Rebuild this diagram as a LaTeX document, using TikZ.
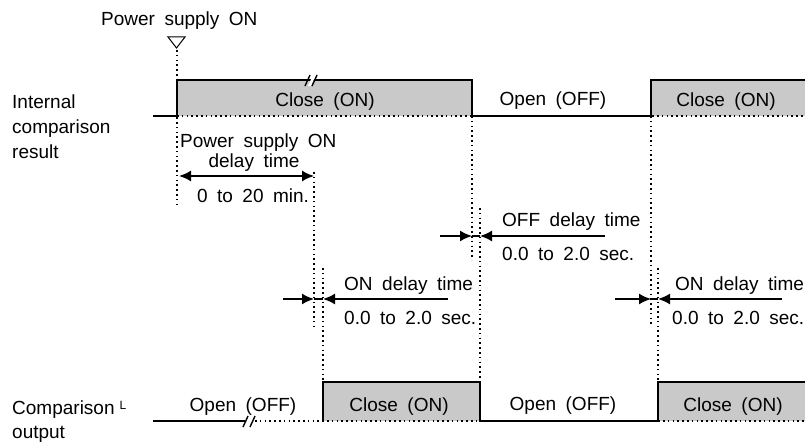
\documentclass[tikz,border=0pt]{standalone}
\usepackage{fontspec}
\setmainfont{Liberation Sans}[WordSpace=1.8]
\usetikzlibrary{arrows.meta}
\definecolor{fillgray}{RGB}{200,201,200}
\begin{document}
\begin{tikzpicture}[x=1pt,y=-1pt,
  lbl/.style={inner sep=0pt, font=\fontsize{19pt}{19pt}\selectfont},
  sig/.style={line width=2pt, line join=miter},
  guide/.style={line width=1.1pt, dash pattern=on 1.6pt off 3.2pt},
  arr/.style={line width=1.6pt, -{Latex[length=12pt,width=11pt]}},
  darr/.style={line width=1.6pt, {Latex[length=12pt,width=11pt]}-{Latex[length=12pt,width=11pt]}},
  brk/.style={line width=1.4pt},
]
\useasboundingbox (0,0) rectangle (805,446);

% ---------- top waveform (internal comparison result)
\coordinate (t0) at (153,116);
\coordinate (t1) at (177,116);
\coordinate (t2) at (177,80);
\coordinate (t3) at (472,80);
\coordinate (t4) at (472,116);
\coordinate (t5) at (651,116);
\coordinate (t6) at (651,80);
\coordinate (t7) at (805,80);
\coordinate (tend) at (805,116);
\fill[fillgray] (t2) rectangle (t4);
\fill[fillgray] (t6) rectangle (tend);
\draw[guide] (t1) -- (tend);

% ---------- bottom waveform (comparison output)
\coordinate (b0) at (153,421);
\coordinate (bbrk) at (245,421);
\coordinate (bdot) at (255,421);
\coordinate (b1) at (323,421);
\coordinate (b2) at (323,382);
\coordinate (b3) at (480,382);
\coordinate (b4) at (480,421);
\coordinate (b5) at (658,421);
\coordinate (b6) at (658,382);
\coordinate (b7) at (805,382);
\coordinate (bend) at (805,421);
\fill[fillgray] (b2) rectangle (b4);
\fill[fillgray] (b6) rectangle (bend);
\draw[guide] (bdot) -- (bend);

% ---------- power on marker
\coordinate (pwr) at (176.5,48);
\draw[line width=1pt, line join=miter] (168,37) -- (185,37) -- (pwr) -- cycle;

% ---------- dotted guide lines
\coordinate (g1a) at (177,50);   \coordinate (g1b) at (177,205);
\coordinate (g2a) at (314,172);  \coordinate (g2b) at (314,326);
\coordinate (g3a) at (323,268);  \coordinate (g3b) at (323,382);
\coordinate (g4a) at (472,116);  \coordinate (g4b) at (472,260);
\coordinate (g5a) at (480,208);  \coordinate (g5b) at (480,382);
\coordinate (g6a) at (651,116);  \coordinate (g6b) at (651,326);
\coordinate (g7a) at (658,268);  \coordinate (g7b) at (658,382);
\foreach \g in {1,...,7} \draw[guide] (g\g a) -- (g\g b);

% ---------- signal lines
\draw[sig] (t0) -- (t1) -- (t2) -- (t3) -- (t4) -- (t5) -- (t6) -- (t7);
\draw[sig] (b0) -- (bbrk);
\draw[sig] (b1) -- (b2) -- (b3) -- (b4) -- (b5) -- (b6) -- (b7);

% break marks
\fill[white] (308,86) -- (313,75) -- (316,75) -- (311,86) -- cycle;
\draw[brk] (305,86) -- (310,75);
\draw[brk] (312,86) -- (317,75);
\draw[brk] (243,427) -- (248,416);
\draw[brk] (250,427) -- (255,416);

% ---------- delay arrows
\coordinate (pa) at (179,176); \coordinate (pb) at (314,176);
\draw[darr] (pa) -- (pb);

\coordinate (f0) at (440,236); \coordinate (f1) at (472,236);
\coordinate (f2) at (480,236); \coordinate (f3) at (605,236);
\draw[arr] (f0) -- (f1);
\draw[line width=1.6pt] (f1) -- (f2);
\draw[arr] (f3) -- (f2);

\coordinate (n0) at (283,299); \coordinate (n1) at (314,299);
\coordinate (n2) at (323,299); \coordinate (n3) at (448,299);
\draw[arr] (n0) -- (n1);
\draw[line width=1.6pt] (n1) -- (n2);
\draw[arr] (n3) -- (n2);

\coordinate (m0) at (615,299); \coordinate (m1) at (651,299);
\coordinate (m2) at (658,299); \coordinate (m3) at (782,299);
\draw[arr] (m0) -- (m1);
\draw[line width=1.6pt] (m1) -- (m2);
\draw[arr] (m3) -- (m2);

% ---------- texts
\node[lbl, anchor=base west] (pson) at (101,26) {Power supply ON};
\node[lbl, anchor=base] (tc1) at (325,107) {Close (ON)};
\node[lbl, anchor=base] (to1) at (553,106) {Open (OFF)};
\node[lbl, anchor=base] (tc2) at (726,107) {Close (ON)};

\node[lbl, anchor=base west] (l1) at (12,109) {Internal};
\node[lbl, anchor=base west] (l2) at (12,134) {comparison};
\node[lbl, anchor=base west] (l3) at (12,159) {result};

\node[lbl, anchor=base west] (pd1) at (180,148) {Power supply ON};
\node[lbl, anchor=base] (pd2) at (254,168) {delay time};
\node[lbl, anchor=base] (pd3) at (253,203) {0 to 20 min.};

\node[lbl, anchor=base west] (fd1) at (502,227) {OFF delay time};
\node[lbl, anchor=base west] (fd2) at (502,261) {0.0 to 2.0 sec.};
\node[lbl, anchor=base west] (nd1) at (344,290) {ON delay time};
\node[lbl, anchor=base west] (nd2) at (344,324) {0.0 to 2.0 sec.};
\node[lbl, anchor=base west] (md1) at (675,290) {ON delay time};
\node[lbl, anchor=base west] (md2) at (672,324) {0.0 to 2.0 sec.};

\node[lbl, anchor=base west] (c1) at (12,414) {Comparison\hspace{5pt}\raisebox{5pt}{\fontsize{12pt}{12pt}\selectfont L}};
\node[lbl, anchor=base west] (c2) at (12,438) {output};

\node[lbl, anchor=base] (bo1) at (243,411) {Open (OFF)};
\node[lbl, anchor=base] (bc1) at (399,411) {Close (ON)};
\node[lbl, anchor=base] (bo2) at (563,410) {Open (OFF)};
\node[lbl, anchor=base] (bc2) at (733,411) {Close (ON)};
\end{tikzpicture}
\end{document}
